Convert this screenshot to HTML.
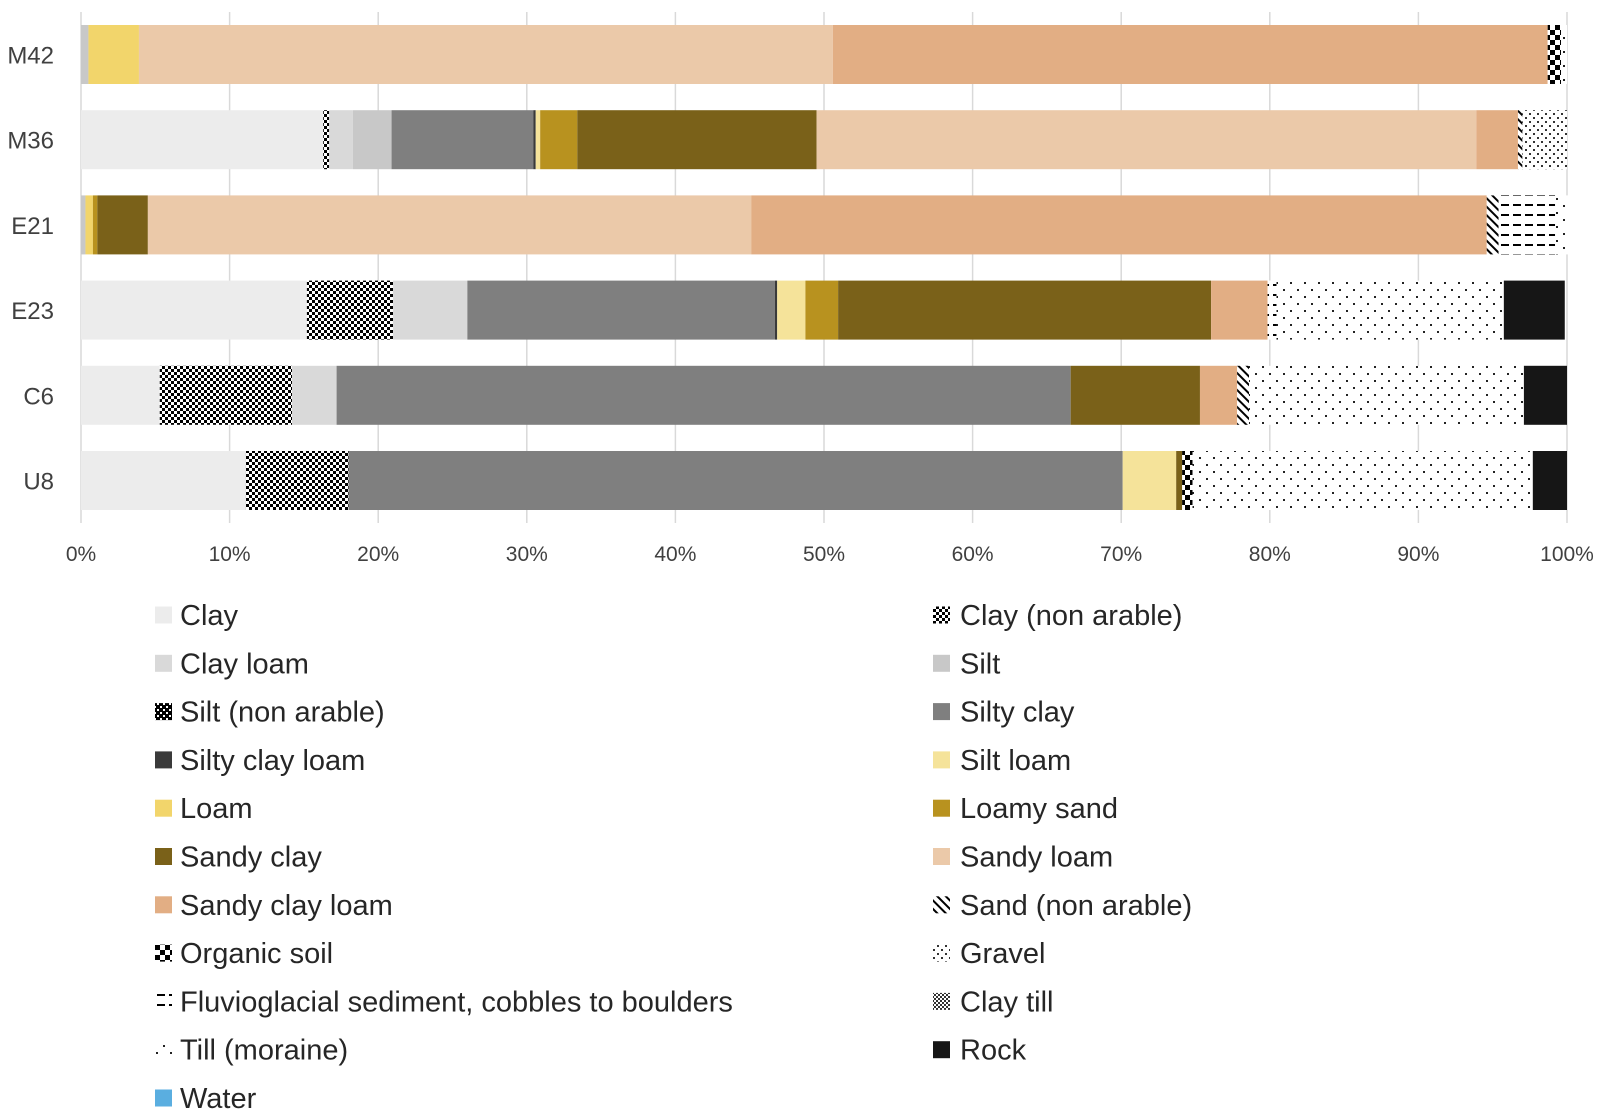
<!DOCTYPE html>
<html><head><meta charset="utf-8">
<style>
html,body{margin:0;padding:0;background:#fff;}
svg{display:block;font-family:"Liberation Sans",sans-serif;}
</style></head>
<body>
<svg id="chart" width="1600" height="1112" viewBox="0 0 1600 1112">
<defs>
<pattern id="p-claynon" width="6" height="6" patternUnits="userSpaceOnUse"><rect width="6" height="6" fill="#fff"/><rect width="3" height="3" fill="#000"/><rect x="3" y="3" width="3" height="3" fill="#000"/></pattern>
<pattern id="p-siltnon" width="6" height="6" patternUnits="userSpaceOnUse"><rect width="6" height="6" fill="#000"/><rect x="1" y="1" width="2" height="2" fill="#fff"/><rect x="4" y="4" width="2" height="2" fill="#fff"/></pattern>
<pattern id="p-sandnon" width="6" height="6" patternUnits="userSpaceOnUse" patternTransform="rotate(45)"><rect width="6" height="6" fill="#fff"/><rect width="6" height="2" fill="#000"/></pattern>
<pattern id="p-organic" width="10" height="10" patternUnits="userSpaceOnUse"><rect width="10" height="10" fill="#fff"/><rect width="5" height="5" fill="#000"/><rect x="5" y="5" width="5" height="5" fill="#000"/></pattern>
<pattern id="p-gravel" width="8" height="8" patternUnits="userSpaceOnUse"><rect width="8" height="8" fill="#fff"/><rect x="1" y="1" width="2" height="2" fill="#333"/><rect x="5" y="5" width="2" height="2" fill="#333"/></pattern>
<pattern id="p-fluvio" width="12" height="10" patternUnits="userSpaceOnUse"><rect width="12" height="10" fill="#fff"/><rect x="1" y="4" width="8" height="2" fill="#000"/></pattern>
<pattern id="p-claytill" width="4" height="4" patternUnits="userSpaceOnUse"><rect width="4" height="4" fill="#fff"/><rect width="2" height="2" fill="#333"/><rect x="2" y="2" width="2" height="2" fill="#333"/></pattern>
<pattern id="p-till" width="14" height="14" patternUnits="userSpaceOnUse"><rect width="14" height="14" fill="#fff"/><rect x="2" y="2" width="2" height="2" fill="#222"/><rect x="9" y="9" width="2" height="2" fill="#222"/></pattern>
</defs>
<g id="grid"></g>
<g id="bars"></g>
<g id="axis"></g>
<g id="legend"></g>
</svg>
<script>
const categories = ["M42","M36","E21","E23","C6","U8"];
const classNames = ["Clay","Clay (non arable)","Clay loam","Silt","Silt (non arable)","Silty clay","Silty clay loam","Silt loam","Loam","Loamy sand","Sandy clay","Sandy loam","Sandy clay loam","Sand (non arable)","Organic soil","Gravel","Fluvioglacial sediment, cobbles to boulders","Clay till","Till (moraine)","Rock","Water"];
const classFills = ["#ececec","url(#p-claynon)","#d9d9d9","#c8c8c8","url(#p-siltnon)","#7f7f7f","#3a3a3a","#f5e39a","#f2d56b","#b8921f","#7a6119","#ebc9a9","#e2ae84","url(#p-sandnon)","url(#p-organic)","url(#p-gravel)","url(#p-fluvio)","url(#p-claytill)","url(#p-till)","#161616","#5aaee0"];
// values per class, ordered as categories [M42,M36,E21,E23,C6,U8]
const clay          = [0,   16.3, 0,    15.2, 5.3,  11.1];
const clayNonArable = [0,   0.4,  0,    5.8,  8.9,  6.9];
const clayLoam      = [0,   1.6,  0,    5.0,  3.0,  0];
const silt          = [0.5, 2.6,  0.3,  0,    0,    0];
const siltNonArable = [0,   0,    0,    0,    0,    0];
const siltyClay     = [0,   9.55, 0,    20.7, 49.4, 52.1];
const siltyClayLoam = [0,   0.15, 0,    0.15, 0,    0];
const siltLoam      = [0,   0.3,  0,    1.9,  0,    3.6];
const loam          = [3.4, 0,    0.5,  0,    0,    0];
const loamySand     = [0,   2.5,  0.3,  2.2,  0,    0];
const sandyClay     = [0,   16.1, 3.4,  25.1, 8.7,  0.4];
const sandyLoam     = [46.7,44.4, 40.6, 0,    0,    0];
const sandyClayLoam = [48.1,2.8,  49.5, 3.8,  2.5,  0];
const sandNonArable = [0,   0.3,  0.8,  0,    0.8,  0];
const organicSoil   = [0.9, 0,    0,    0,    0,    0.7];
const gravel        = [0,   3.0,  0,    0,    0,    0];
const fluvio        = [0,   0,    3.8,  0.6,  0,    0];
const clayTill      = [0,   0,    0,    0,    0,    0];
const till          = [0.4, 0,    0.9,  15.3, 18.5, 22.9];
const rock          = [0,   0,    0,    4.1,  2.9,  2.3];
const water         = [0,   0,    0,    0,    0,    0];
const series = [clay,clayNonArable,clayLoam,silt,siltNonArable,siltyClay,siltyClayLoam,siltLoam,loam,loamySand,sandyClay,sandyLoam,sandyClayLoam,sandNonArable,organicSoil,gravel,fluvio,clayTill,till,rock,water];
const tickLabels = ["0%","10%","20%","30%","40%","50%","60%","70%","80%","90%","100%"];
const tickValues = [0,10,20,30,40,50,60,70,80,90,100];

const NS="http://www.w3.org/2000/svg";
const X0=81, X1=1567, BAR_TOP=25, BAR_STEP=85.2, BAR_H=59;
function xs(v){return X0+(X1-X0)*v/100;}
function yb(i){return BAR_TOP+i*BAR_STEP;}
function mk(tag,attrs,parent){const e=document.createElementNS(NS,tag);for(const k in attrs)e.setAttribute(k,attrs[k]);parent.appendChild(e);return e;}

const grid=document.getElementById('grid'), axis=document.getElementById('axis'), bars=document.getElementById('bars'), legend=document.getElementById('legend');
tickValues.forEach((t,i)=>{
  const l=mk('line',{x1:xs(t),x2:xs(t),y1:12,y2:523,stroke:'#d9d9d9','stroke-width':1.5},grid);
  
  
  const tx=mk('text',{x:xs(t),y:561,'text-anchor':'middle','font-size':21,fill:'#404040'},axis);
  tx.textContent=tickLabels[i];
  
  
});
categories.forEach((c,i)=>{
  const tx=mk('text',{x:54,y:yb(i)+BAR_H/2+9,'text-anchor':'end','font-size':24,fill:'#404040'},axis);
  tx.textContent=c;
  
  
  let acc=0;
  series.forEach((s,k)=>{
    const v=s[i];
    if(v>0){
      const r=mk('rect',{x:xs(acc),y:yb(i),width:Math.max(0,xs(acc+v)-xs(acc)),height:BAR_H,fill:classFills[k]},bars);
      
      
      acc+=v;
    }
  });
});
classNames.forEach((n,k)=>{
  const col=k%2, row=Math.floor(k/2);
  const cy=615+row*48.3;
  const sx=col===0?155:933, tx0=col===0?180:960;
  const g=mk('g',{},legend);
  
  
  mk('rect',{x:sx,y:cy-8.5,width:17,height:17,fill:classFills[k]},g);
  const t=mk('text',{x:tx0,y:cy+10,'font-size':29,fill:'#262626'},g);
  t.textContent=n;
});
</script>
</body></html>
